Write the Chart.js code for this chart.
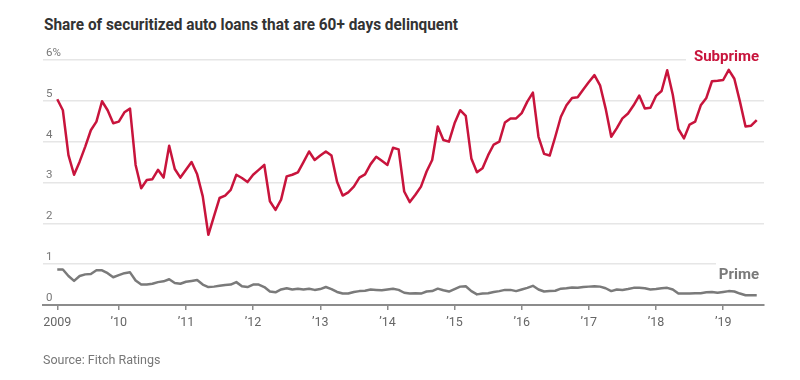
<!DOCTYPE html>
<html>
<head>
<meta charset="utf-8">
<script src="https://cdn.jsdelivr.net/npm/chart.js@4"></script>
<style>
  html,body{margin:0;padding:0;background:#fff;}
  body{width:800px;height:380px;overflow:hidden;position:relative;font-family:Roboto,"Noto Sans",sans-serif;}
  #title{position:absolute;left:44px;top:15px;font-weight:700;font-size:16px;color:#333;white-space:nowrap;transform-origin:left top;}
  #source{position:absolute;left:43px;top:352px;font-size:12.5px;color:#777;white-space:nowrap;}
  canvas{position:absolute;left:0;top:0;}
</style>
</head>
<body>
<div id="title">Share of securitized auto loans that are 60+ days delinquent</div>
<canvas id="c" width="800" height="380"></canvas>
<div id="source">Source: Fitch Ratings</div>
<script>
// Monthly series, Feb 2009 - Jul 2019 (percent of loans 60+ days delinquent)
const subprime = [
  5.04,4.77,3.67,3.19,3.51,3.88,4.28,4.49,4.99,4.77,4.45,
  4.49,4.72,4.81,3.43,2.86,3.06,3.08,3.31,3.12,3.90,3.33,3.12,
  3.31,3.50,3.20,2.66,1.72,2.17,2.62,2.68,2.82,3.19,3.11,3.01,
  3.19,3.31,3.43,2.54,2.33,2.58,3.15,3.19,3.25,3.50,3.76,3.55,
  3.66,3.76,3.66,3.02,2.68,2.76,2.90,3.12,3.20,3.45,3.63,3.53,
  3.43,3.85,3.81,2.78,2.52,2.70,2.90,3.27,3.55,4.37,4.04,4.00,
  4.45,4.77,4.63,3.59,3.25,3.35,3.67,3.93,4.00,4.47,4.57,4.57,
  4.70,4.98,5.20,4.12,3.70,3.66,4.12,4.61,4.89,5.07,5.09,5.28,
  5.46,5.63,5.38,4.81,4.12,4.33,4.57,4.69,4.89,5.13,4.81,4.83,
  5.12,5.24,5.75,5.15,4.31,4.08,4.42,4.49,4.89,5.07,5.48,5.49,
  5.51,5.76,5.54,4.98,4.37,4.39,4.53
];
const prime = [
  0.87,0.87,0.71,0.59,0.71,0.75,0.76,0.85,0.85,0.78,0.68,
  0.73,0.78,0.80,0.60,0.50,0.50,0.52,0.56,0.58,0.63,0.54,0.52,
  0.57,0.59,0.61,0.50,0.44,0.45,0.47,0.49,0.50,0.56,0.46,0.44,
  0.50,0.50,0.44,0.33,0.31,0.38,0.41,0.38,0.40,0.38,0.40,0.37,
  0.39,0.44,0.39,0.32,0.28,0.28,0.32,0.34,0.35,0.38,0.37,0.36,
  0.38,0.40,0.37,0.30,0.28,0.29,0.28,0.33,0.34,0.40,0.36,0.33,
  0.39,0.45,0.46,0.34,0.26,0.28,0.29,0.32,0.34,0.37,0.37,0.34,
  0.38,0.42,0.47,0.38,0.33,0.34,0.35,0.40,0.41,0.43,0.42,0.44,
  0.45,0.46,0.45,0.41,0.34,0.38,0.37,0.39,0.42,0.42,0.41,0.38,
  0.39,0.41,0.42,0.38,0.28,0.28,0.28,0.29,0.29,0.31,0.32,0.30,
  0.32,0.34,0.33,0.28,0.24,0.24,0.24
];
// Categories: months
const months = [];
for (let k = 0; k < subprime.length; k++) {
  const m = 1 + k; // Feb 2009 = 1 (0-based month)
  const yr = 2009 + Math.floor(m / 12);
  const mo = (m % 12) + 1;
  months.push(yr + '-' + String(mo).padStart(2, '0'));
}
const xTickMonths = ['2009-02','2010-01','2011-01','2012-01','2013-01','2014-01','2015-01','2016-01','2017-01','2018-01','2019-01'];
const xTickLabels = ['2009','\u201910','\u201911','\u201912','\u201913','\u201914','\u201915','\u201916','\u201917','\u201918','\u201919'];
const yTickValues = [0,1,2,3,4,5,6];
const yTickLabels = ['0','1','2','3','4','5','6%'];

const xTickIdx = xTickMonths.map(m => months.indexOf(m));
const toPts = arr => arr.map((v, i) => ({x: i, y: v}));

// fit title width
const t = document.getElementById('title');
const w = t.getBoundingClientRect().width;
t.style.transform = 'scaleX(' + (414 / w) + ')';

const labelPlugin = {
  id: 'labels',
  beforeDatasetsDraw(chart) {
    const ctx = chart.ctx, y = chart.scales.y;
    ctx.save();
    ctx.fillStyle = '#fff';
    ctx.fillRect(686, y.getPixelForValue(6) - 4, 114, 8);
    ctx.fillRect(716, y.getPixelForValue(1) - 4, 84, 8);
    ctx.restore();
  },
  afterDatasetsDraw(chart) {
    const ctx = chart.ctx;
    ctx.save();
    ctx.textAlign = 'right';
    ctx.textBaseline = 'middle';
    ctx.font = 'bold 15px Roboto, "Noto Sans", sans-serif';
    ctx.fillStyle = '#c8143c';
    ctx.fillText('Subprime', 759, 57);
    ctx.fillStyle = '#7a7a7a';
    ctx.fillText('Prime', 759, 275);
    ctx.restore();
  }
};

new Chart(document.getElementById('c'), {
  type: 'line',
  data: {
    datasets: [
      {label: 'Subprime', data: toPts(subprime), borderColor: '#c8143c', borderWidth: 2.5, pointRadius: 0, tension: 0, borderJoinStyle: 'round'},
      {label: 'Prime', data: toPts(prime), borderColor: '#7a7a7a', borderWidth: 2.5, pointRadius: 0, tension: 0, borderJoinStyle: 'round'}
    ]
  },
  options: {
    responsive: false,
    animation: false,
    events: [],
    layout: {padding: {left: 37, right: 36, top: 60, bottom: 45}},
    plugins: {legend: {display: false}, tooltip: {enabled: false}, title: {display: false}},
    scales: {
      x: {
        type: 'linear',
        min: -2.55,
        max: 126.3,
        afterBuildTicks: s => { s.ticks = xTickIdx.map(v => ({value: v})); },
        ticks: {
          autoSkip: false,
          maxRotation: 0,
          padding: 5,
          color: '#666',
          font: {size: 12.5, family: 'Roboto, "Noto Sans", sans-serif'},
          callback: (v) => { const k = xTickIdx.indexOf(v); return k >= 0 ? xTickLabels[k] : ''; }
        },
        grid: {drawOnChartArea: false, drawTicks: true, tickLength: 5, color: '#8c8c8c', lineWidth: 1.5},
        border: {display: true, color: '#8c8c8c', width: 2}
      },
      y: {
        min: 0,
        max: 6,
        afterBuildTicks: s => { s.ticks = yTickValues.map(v => ({value: v})); },
        ticks: {
          mirror: true,
          padding: 3,
          labelOffset: -7,
          color: '#777',
          font: {size: 11.5, family: 'Roboto, "Noto Sans", sans-serif'},
          callback: (v) => { const k = yTickValues.indexOf(v); return k >= 0 ? yTickLabels[k] : ''; }
        },
        grid: {drawTicks: false, color: '#e6e6e6', lineWidth: 1.5},
        border: {display: false}
      }
    }
  },
  plugins: [labelPlugin]
});
</script>
</body>
</html>
